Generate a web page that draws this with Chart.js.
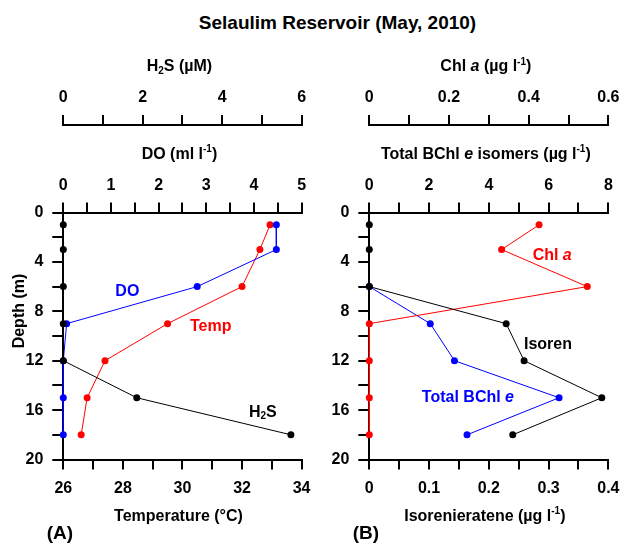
<!DOCTYPE html>
<html>
<head>
<meta charset="utf-8">
<script src="https://cdn.jsdelivr.net/npm/chart.js@4.4.1/dist/chart.umd.min.js"></script>
<style>
  body { margin: 0; background: #fff; }
  #wrap { position: relative; width: 629px; height: 543px; overflow: hidden;
          font-family: 'Liberation Sans', Arial, sans-serif; font-weight: bold; color: #000; }
  canvas { position: absolute; top: 0; }
  .txt { position: absolute; text-align: center; white-space: nowrap; }
</style>
</head>
<body>
<div id="wrap">
  <div class="txt" style="left:0;width:675px;top:13px;font-size:19px;line-height:20px">Selaulim Reservoir (May, 2010)</div>
  <canvas id="panelA" width="320" height="543" style="left:0"></canvas>
  <canvas id="panelB" width="309" height="543" style="left:320px"></canvas>
  <div class="txt" style="left:40px;width:40px;top:523px;font-size:19px;line-height:20px">(A)</div>
  <div class="txt" style="left:346px;width:40px;top:523px;font-size:19px;line-height:20px">(B)</div>
</div>
<script>
// --- data (depth profiles) ---
const depth       = [1, 3, 6, 9, 12, 15, 18];
const temperature = [32.94, 32.6, 32.0, 29.5, 27.4, 26.8, 26.6];
const dissolvedO2 = [4.47, 4.47, 2.81, 0.07, 0, 0, 0];
const h2s         = [0, 0, 0, 0, 0, 1.85, 5.73];
const isoren      = [0, 0, 0, 0.229, 0.259, 0.389, 0.24];
const bchlE       = [null, null, 0, 2.04, 2.85, 6.35, 3.27];
const chlA        = [0.426, 0.332, 0.547, 0, 0, 0, 0];

const FONT = "'Liberation Sans', Arial, sans-serif";
const RED = '#ff0000', BLUE = '#0000ff', BLACK = '#000000';

Chart.defaults.font.family = FONT;

function pts(values) {
  return depth.map((d, i) => values[i] == null ? null : { x: values[i], y: d }).filter(Boolean);
}

function series(values, color, xid) {
  return {
    data: pts(values),
    xAxisID: xid,
    yAxisID: 'y',
    showLine: true,
    borderColor: color,
    borderWidth: 1,
    pointRadius: 3.5,
    pointHoverRadius: 3.5,
    pointBackgroundColor: color,
    pointBorderWidth: 0,
    clip: false
  };
}

const near = (v, k) => Math.abs(v * k - Math.round(v * k)) < 1e-6;
const fmt = v => (Math.abs(v) < 1e-9 ? '0' : (Number.isInteger(Math.round(v * 1e6) / 1e6) ? String(Math.round(v)) : v.toFixed(1)));

function axis(position, min, max, step, every, size, opts = {}) {
  return {
    type: 'linear',
    position,
    min, max,
    reverse: !!opts.reverse,
    weight: opts.weight || 0,
    grid: { display: true, drawOnChartArea: false, drawTicks: true, tickLength: opts.tl || 10, color: BLACK, lineWidth: 2 },
    border: { display: true, color: BLACK, width: 2 },
    ticks: {
      stepSize: step,
      autoSkip: false,
      maxRotation: 0,
      padding: opts.pad || 8,
      color: BLACK,
      font: { family: FONT, size: 16, weight: 'bold' },
      callback: v => near(v, 1 / every) ? fmt(v) : ''
    },
    title: { display: false },
    afterFit: s => {
      if (position === 'left') s.width = size; else s.height = size;
    }
  };
}

// rich text: parts = [text, kind] with kind '', 'i', 'sup', 'sub'
function drawRich(ctx, parts, size, color) {
  const fontFor = k => (k === 'i' ? 'italic ' : '') + 'bold ' +
    (k === 'sup' || k === 'sub' ? Math.round(size * 0.6) : size) + 'px ' + FONT;
  let w = 0;
  parts.forEach(([t, k]) => { ctx.font = fontFor(k); w += ctx.measureText(t).width; });
  let x = -w / 2;
  ctx.textBaseline = 'middle';
  ctx.textAlign = 'left';
  ctx.fillStyle = color;
  parts.forEach(([t, k]) => {
    ctx.font = fontFor(k);
    const dy = k === 'sup' ? -size * 0.3 : k === 'sub' ? size * 0.28 : 0;
    ctx.fillText(t, x, dy);
    x += ctx.measureText(t).width;
  });
}

function textPlugin(items) {
  return {
    id: 'richText',
    afterDraw(chart) {
      const ctx = chart.ctx;
      items.forEach(it => {
        const p = it.place(chart);
        ctx.save();
        ctx.translate(p.x, p.y);
        if (p.rot) ctx.rotate(p.rot);
        drawRich(ctx, it.parts, it.size || 16, it.color || BLACK);
        ctx.restore();
      });
    }
  };
}

const topTitle = (id, parts) => ({ parts, place: ch => {
  const s = ch.scales[id]; return { x: (s.left + s.right) / 2 - 3, y: s.bottom - 58 };
}});
const bottomTitle = (id, parts) => ({ parts, place: ch => {
  const s = ch.scales[id]; return { x: (s.left + s.right) / 2 - 4, y: s.top + 57 };
}});
const seriesLabel = (xid, xv, yv, parts, color) => ({ parts, color, size: 16, place: ch => ({
  x: ch.scales[xid].getPixelForValue(xv), y: ch.scales.y.getPixelForValue(yv)
})});

const sup1 = [['-1', 'sup'], [')', '']];

// --- Panel A ---
new Chart(document.getElementById('panelA'), {
  type: 'scatter',
  data: {
    datasets: [
      series(h2s, BLACK, 'xH'),
      series(dissolvedO2, BLUE, 'xDO'),
      series(temperature, RED, 'xT')
    ]
  },
  options: {
    responsive: false,
    animation: false,
    events: [],
    layout: { padding: { top: 50, right: 10, bottom: 0, left: 0 } },
    plugins: { legend: { display: false }, tooltip: { enabled: false } },
    scales: {
      y: axis('left', 0, 20, 2, 4, 63.3, { reverse: true, tl: 11, pad: 9 }),
      xT: axis('bottom', 26, 34, 1, 2, 83.5, { pad: 9.5 }),
      xDO: axis('top', 0, 5, 0.5, 1, 87.5, { weight: 0, pad: 7.5 }),
      xH: axis('top', 0, 6, 1, 2, 75, { weight: 1, pad: 8 })
    }
  },
  plugins: [textPlugin([
    topTitle('xH', [['H', ''], ['2', 'sub'], ['S (µM)', '']]),
    topTitle('xDO', [['DO (ml l', '']].concat(sup1)),
    bottomTitle('xT', [['Temperature (°C)', '']]),
    { parts: [['Depth (m)', '']], place: ch => ({ x: 20, y: (ch.chartArea.top + ch.chartArea.bottom) / 2 - 25, rot: -Math.PI / 2 }) },
    seriesLabel('xT', 28.15, 6.42, [['DO', '']], BLUE),
    seriesLabel('xT', 30.95, 9.2, [['Temp', '']], RED),
    seriesLabel('xT', 32.7, 16.17, [['H', ''], ['2', 'sub'], ['S', '']], BLACK)
  ])]
});

// --- Panel B ---
new Chart(document.getElementById('panelB'), {
  type: 'scatter',
  data: {
    datasets: [
      series(isoren, BLACK, 'xIso'),
      series(chlA, RED, 'xChl'),
      series(bchlE, BLUE, 'xBC')
    ]
  },
  options: {
    responsive: false,
    animation: false,
    events: [],
    layout: { padding: { top: 50, right: 13, bottom: 0, left: 0 } },
    plugins: { legend: { display: false }, tooltip: { enabled: false } },
    scales: {
      y: axis('left', 0, 20, 2, 4, 49.3, { reverse: true, tl: 11, pad: 9 }),
      xIso: axis('bottom', 0, 0.4, 0.05, 0.1, 83.5, { pad: 9.5 }),
      xBC: axis('top', 0, 8, 1, 2, 87.5, { weight: 0, pad: 7.5 }),
      xChl: axis('top', 0, 0.6, 0.1, 0.2, 75, { weight: 1, pad: 8 })
    }
  },
  plugins: [textPlugin([
    topTitle('xChl', [['Chl ', ''], ['a', 'i'], [' (µg l', '']].concat(sup1)),
    topTitle('xBC', [['Total BChl ', ''], ['e', 'i'], [' isomers (µg l', '']].concat(sup1)),
    bottomTitle('xIso', [['Isorenieratene (µg l', '']].concat(sup1)),
    seriesLabel('xIso', 0.306, 3.45, [['Chl ', ''], ['a', 'i']], RED),
    seriesLabel('xIso', 0.299, 10.66, [['Isoren', '']], BLACK),
    seriesLabel('xIso', 0.165, 14.98, [['Total BChl ', ''], ['e', 'i']], BLUE)
  ])]
});
</script>
</body>
</html>
